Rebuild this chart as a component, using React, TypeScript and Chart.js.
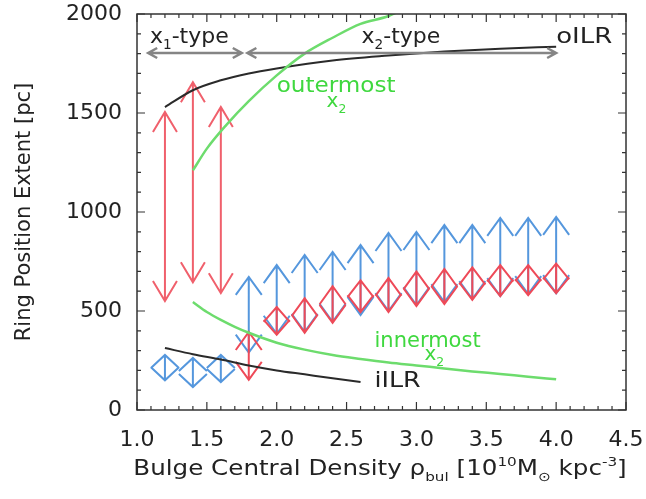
import React, { useEffect, useRef } from "react";
import { Chart, registerables } from "chart.js";

Chart.register(...registerables);

const FONT = "'DejaVu Sans', 'Liberation Sans', Arial, sans-serif";

// ---- data ----
const x1Positions = [1.2, 1.4, 1.6];
const x1RedLow = [550, 645, 590];
const x1RedHigh = [1505, 1655, 1530];
const x1BlueLow = [150, 116, 141];
const x1BlueHigh = [278, 263, 278];

const x2Positions = [1.8, 2.0, 2.2, 2.4, 2.6, 2.8, 3.0, 3.2, 3.4, 3.6, 3.8, 4.0];
const x2RedLow = [152, 380, 390, 440, 495, 495, 525, 535, 556, 575, 580, 590];
const x2RedHigh = [394, 520, 565, 625, 655, 667, 700, 712, 720, 732, 732, 740];
const x2BlueLow = [290, 385, 395, 445, 480, 500, 530, 545, 560, 575, 585, 590];
const x2BlueHigh = [672, 732, 783, 798, 833, 894, 899, 934, 934, 970, 970, 975];

const oilrX = [1.2, 1.4, 1.6, 1.8, 2.0, 2.4, 2.8, 3.2, 3.6, 4.0];
const oilrY = [1530, 1615, 1665, 1700, 1725, 1765, 1790, 1810, 1825, 1835];

const iilrX = [1.2, 1.4, 1.6, 1.8, 2.0, 2.2, 2.4, 2.6];
const iilrY = [313, 282, 255, 225, 200, 180, 160, 141];

const outerX = [1.4, 1.5, 1.64, 1.8, 2.0, 2.2, 2.4, 2.6, 2.8, 3.0];
const outerY = [1210, 1320, 1440, 1560, 1690, 1800, 1880, 1950, 1990, 2060];

const innerX = [1.4, 1.5, 1.6, 1.7, 1.8, 2.0, 2.2, 2.4, 2.6, 2.8, 3.0, 3.2, 3.4, 3.6, 3.8, 4.0];
const innerY = [545, 495, 455, 420, 390, 340, 305, 278, 258, 240, 225, 210, 195, 182, 168, 155];

const RED = "#ee4a58";
const RED_LIGHT = "#f0606c";
const BLUE = "#5597dd";
const GREEN_LINE = "#6ddc6d";
const GREEN_TEXT = "#3fd83f";

type Seg = { t: string; k?: "sub" | "sup" };

function drawRich(
  ctx: CanvasRenderingContext2D,
  segs: Seg[],
  x: number,
  y: number,
  size: number,
  color: string,
  align: "left" | "center",
  stretch = 1
) {
  const small = size * 0.62;
  let total = 0;
  const widths = segs.map((s) => {
    ctx.font = `${s.k ? small : size}px ${FONT}`;
    const w = ctx.measureText(s.t).width;
    total += w;
    return w;
  });
  const start = align === "center" ? x - (total * stretch) / 2 : x;
  ctx.save();
  ctx.translate(start, y);
  ctx.scale(stretch, 1);
  ctx.fillStyle = color;
  ctx.textBaseline = "alphabetic";
  ctx.textAlign = "left";
  let cx = 0;
  segs.forEach((s, i) => {
    ctx.font = `${s.k ? small : size}px ${FONT}`;
    const dy = s.k === "sub" ? size * 0.28 : s.k === "sup" ? -size * 0.42 : 0;
    ctx.fillText(s.t, cx, dy);
    cx += widths[i];
  });
  ctx.restore();
}

function drawDoubleArrow(
  ctx: CanvasRenderingContext2D,
  px: number,
  pLow: number,
  pHigh: number,
  color: string,
  lw: number,
  headLen: number,
  headHalf: number
) {
  ctx.strokeStyle = color;
  ctx.lineWidth = lw;
  ctx.lineJoin = "miter";
  ctx.beginPath();
  ctx.moveTo(px, pLow);
  ctx.lineTo(px, pHigh);
  ctx.moveTo(px - headHalf, pHigh + headLen);
  ctx.lineTo(px, pHigh);
  ctx.lineTo(px + headHalf, pHigh + headLen);
  ctx.moveTo(px - headHalf, pLow - headLen);
  ctx.lineTo(px, pLow);
  ctx.lineTo(px + headHalf, pLow - headLen);
  ctx.stroke();
}

function drawHArrow(
  ctx: CanvasRenderingContext2D,
  x0: number,
  x1: number,
  y: number,
  color: string
) {
  ctx.strokeStyle = color;
  ctx.lineWidth = 2.5;
  ctx.beginPath();
  ctx.moveTo(x0, y);
  ctx.lineTo(x1, y);
  ctx.moveTo(x0 + 9, y - 5);
  ctx.lineTo(x0, y);
  ctx.lineTo(x0 + 9, y + 5);
  ctx.moveTo(x1 - 9, y - 5);
  ctx.lineTo(x1, y);
  ctx.lineTo(x1 - 9, y + 5);
  ctx.stroke();
}

const arrowsPlugin = {
  id: "ringArrows",
  beforeDatasetsDraw(chart: any) {
    const { ctx, chartArea: a, scales } = chart;
    const xs = scales.x;
    const ys = scales.y;
    ctx.save();
    ctx.beginPath();
    ctx.rect(a.left, a.top, a.right - a.left, a.bottom - a.top);
    ctx.clip();
    x1Positions.forEach((v, i) => {
      const px = xs.getPixelForValue(v);
      drawDoubleArrow(ctx, px, ys.getPixelForValue(x1BlueLow[i]), ys.getPixelForValue(x1BlueHigh[i]), BLUE, 2, 13, 14);
    });
    x1Positions.forEach((v, i) => {
      const px = xs.getPixelForValue(v);
      drawDoubleArrow(ctx, px, ys.getPixelForValue(x1RedLow[i]), ys.getPixelForValue(x1RedHigh[i]), RED_LIGHT, 2, 20, 12);
    });
    x2Positions.forEach((v, i) => {
      const px = xs.getPixelForValue(v);
      drawDoubleArrow(ctx, px, ys.getPixelForValue(x2BlueLow[i]), ys.getPixelForValue(x2BlueHigh[i]), BLUE, 2, 18, 13);
    });
    x2Positions.forEach((v, i) => {
      const px = xs.getPixelForValue(v);
      const pl = ys.getPixelForValue(x2RedLow[i]);
      const ph = ys.getPixelForValue(x2RedHigh[i]);
      const hl = Math.min(18, (pl - ph) / 2 + 1);
      drawDoubleArrow(ctx, px, pl, ph, RED, 2, hl, 13);
    });
    ctx.restore();
  },
  afterDraw(chart: any) {
    const { ctx, chartArea: a, scales } = chart;
    const xs = scales.x;
    const ys = scales.y;
    ctx.save();
    ctx.strokeStyle = "#333";
    ctx.lineWidth = 1.5;
    ctx.strokeRect(a.left, a.top, a.right - a.left, a.bottom - a.top);
    ctx.lineWidth = 1.2;
    ctx.beginPath();
    for (let i = 0; i <= 35; i++) {
      const px = xs.getPixelForValue(1 + i * 0.1);
      const len = i % 5 === 0 ? 8 : 4;
      ctx.moveTo(px, a.bottom);
      ctx.lineTo(px, a.bottom - len);
      ctx.moveTo(px, a.top);
      ctx.lineTo(px, a.top + len);
    }
    for (let i = 0; i <= 20; i++) {
      const py = ys.getPixelForValue(i * 100);
      const len = i % 5 === 0 ? 8 : 4;
      ctx.moveTo(a.left, py);
      ctx.lineTo(a.left + len, py);
      ctx.moveTo(a.right, py);
      ctx.lineTo(a.right - len, py);
    }
    ctx.stroke();

    const ay = ys.getPixelForValue(1803);
    drawHArrow(ctx, xs.getPixelForValue(1.08), xs.getPixelForValue(1.75), ay, "#858585");
    drawHArrow(ctx, xs.getPixelForValue(1.79), xs.getPixelForValue(4.0), ay, "#858585");

    const ty = ys.getPixelForValue(1853);
    drawRich(ctx, [{ t: "x" }, { t: "1", k: "sub" }, { t: "-type" }], xs.getPixelForValue(1.093), ty, 22, "#222", "left");
    drawRich(ctx, [{ t: "x" }, { t: "2", k: "sub" }, { t: "-type" }], xs.getPixelForValue(2.607), ty, 22, "#222", "left");
    drawRich(ctx, [{ t: "oILR" }], xs.getPixelForValue(4.0), ty, 22, "#222", "left", 1.18);

    drawRich(ctx, [{ t: "outermost" }], xs.getPixelForValue(2.0), ys.getPixelForValue(1606), 21, GREEN_TEXT, "left", 1.1);
    drawRich(ctx, [{ t: "x" }, { t: "2", k: "sub" }], xs.getPixelForValue(2.357), ys.getPixelForValue(1530), 20, GREEN_TEXT, "left");
    drawRich(ctx, [{ t: "innermost" }], xs.getPixelForValue(2.7), ys.getPixelForValue(318), 21, GREEN_TEXT, "left");
    drawRich(ctx, [{ t: "x" }, { t: "2", k: "sub" }], xs.getPixelForValue(3.057), ys.getPixelForValue(253), 20, GREEN_TEXT, "left");
    drawRich(ctx, [{ t: "iILR" }], xs.getPixelForValue(2.7), ys.getPixelForValue(116), 22, "#222", "left", 1.15);

    drawRich(
      ctx,
      [
        { t: "Bulge Central Density ρ" },
        { t: "bul", k: "sub" },
        { t: " [10" },
        { t: "10", k: "sup" },
        { t: "M" },
        { t: "⊙", k: "sub" },
        { t: " kpc" },
        { t: "-3", k: "sup" },
        { t: "]" },
      ],
      (a.left + a.right) / 2 - 1.5,
      475,
      21,
      "#222",
      "center",
      1.17
    );
    ctx.restore();
  },
};

function pts(xs: number[], ys: number[]) {
  return xs.map((x, i) => ({ x, y: ys[i] }));
}

export default function App() {
  const ref = useRef<HTMLCanvasElement | null>(null);
  useEffect(() => {
    if (!ref.current) return;
    const lineDs = (label: string, data: any[], color: string, width: number) => ({
      type: "line" as const,
      label,
      data,
      borderColor: color,
      backgroundColor: color,
      borderWidth: width,
      pointRadius: 0,
      cubicInterpolationMode: "monotone" as const,
      fill: false,
    });
    const chart = new Chart(ref.current, {
      type: "line",
      data: {
        datasets: [
          lineDs("outermost x2", pts(outerX, outerY), GREEN_LINE, 2.5),
          lineDs("innermost x2", pts(innerX, innerY), GREEN_LINE, 2.5),
          lineDs("oILR", pts(oilrX, oilrY), "#2a2a2a", 2),
          lineDs("iILR", pts(iilrX, iilrY), "#2a2a2a", 2),
        ],
      },
      options: {
        responsive: false,
        animation: false,
        layout: { padding: { top: 14, right: 20, left: 0, bottom: 0 } },
        plugins: {
          legend: { display: false },
          tooltip: { enabled: false },
        },
        scales: {
          x: {
            type: "linear",
            min: 1,
            max: 4.5,
            grid: { display: false, drawTicks: false },
            border: { display: false },
            ticks: {
              stepSize: 0.5,
              autoSkip: false,
              maxRotation: 0,
              padding: 17,
              color: "#222",
              font: { family: FONT, size: 22 },
              callback: (v: any) => Number(v).toFixed(1),
            },
            afterFit: (s: any) => {
              s.height = 89;
              s.paddingLeft = 0;
              s.paddingRight = 0;
            },
          },
          y: {
            type: "linear",
            min: 0,
            max: 2000,
            grid: { display: false, drawTicks: false },
            border: { display: false },
            ticks: {
              stepSize: 500,
              padding: 15,
              color: "#222",
              font: { family: FONT, size: 22 },
              callback: (v: any) => String(Math.round(Number(v))),
            },
            title: {
              display: true,
              text: "Ring Position Extent [pc]",
              color: "#222",
              font: { family: FONT, size: 21 },
              padding: { top: 12, bottom: 0 },
            },
            afterFit: (s: any) => {
              s.width = 137;
              s.paddingTop = 0;
              s.paddingBottom = 0;
            },
          },
        },
      } as any,
      plugins: [arrowsPlugin],
    });
    return () => chart.destroy();
  }, []);
  return (
    <div style={{ position: "absolute", left: 0, top: 0, width: 646, height: 499 }}>
      <canvas ref={ref} width={646} height={499} style={{ display: "block" }} />
    </div>
  );
}
